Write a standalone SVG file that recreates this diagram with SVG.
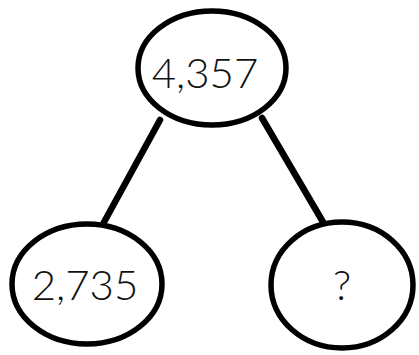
<svg xmlns="http://www.w3.org/2000/svg" width="419" height="355" viewBox="0 0 419 355">
<style>
.n{fill:#fff;stroke:#000;stroke-width:5.5}
.c{stroke:#000;stroke-width:6.5;stroke-linecap:round;fill:none}
.t{font-family:Lato,"Liberation Sans",sans-serif;font-weight:300;font-size:42px;fill:#111;text-anchor:middle}
</style>
<rect width="419" height="355" fill="#fff"/>
<g id="connectors">
<line class="c" x1="160" y1="120" x2="103" y2="224"/>
<line class="c" x1="262" y1="118" x2="323" y2="222"/>
</g>
<g id="top">
<ellipse class="n" cx="212" cy="68" rx="74" ry="57"/>
<text class="t" x="205" y="88">4,357</text>
</g>
<g id="left">
<ellipse class="n" cx="87" cy="284" rx="75" ry="60"/>
<text class="t" x="85" y="300">2,735</text>
</g>
<g id="right">
<ellipse class="n" cx="342" cy="285" rx="71" ry="63"/>
<text class="t" x="342" y="300">?</text>
</g>
</svg>
